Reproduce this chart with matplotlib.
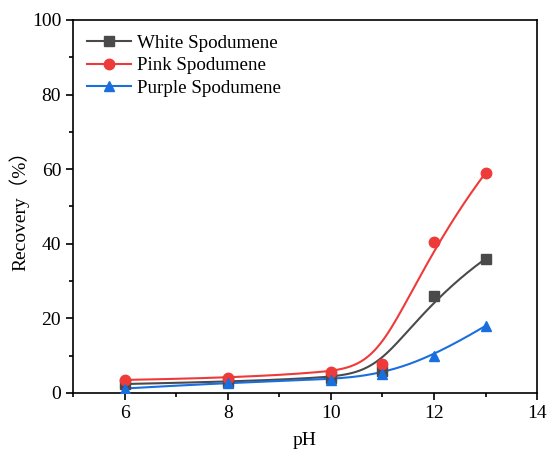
import numpy as np
import matplotlib
matplotlib.use('Agg')
import matplotlib.pyplot as plt
from matplotlib.ticker import MultipleLocator

ph = [6, 8, 10, 11, 12, 13]
white = [2.4, 3.0, 4.0, 6.0, 26.0, 36.0]
pink = [3.5, 4.0, 5.5, 7.8, 40.5, 59.0]
purple = [1.2, 2.8, 3.5, 5.0, 9.8, 18.0]

plt.rcParams['font.family'] = ['Liberation Serif', 'Noto Sans CJK SC']


def bspline(px, py, npts=400):
    # clamped cubic B-spline using the data points as control points
    P = np.column_stack([px, py]).astype(float)
    n = len(P)
    k = 3
    knots = np.concatenate([np.zeros(k), np.arange(n - k + 1), np.full(k, n - k)]).astype(float)
    ts = np.linspace(0, n - k, npts)
    out = []
    for t in ts:
        # Cox-de Boor basis
        N = np.array([1.0 if (knots[i] <= t < knots[i + 1]) else 0.0 for i in range(len(knots) - 1)])
        if t >= knots[-1]:
            N[n - 1] = 1.0
        for d in range(1, k + 1):
            Nn = np.zeros(len(knots) - 1 - d)
            for i in range(len(Nn)):
                a = 0.0
                if knots[i + d] != knots[i]:
                    a = (t - knots[i]) / (knots[i + d] - knots[i]) * N[i]
                b = 0.0
                if knots[i + d + 1] != knots[i + 1]:
                    b = (knots[i + d + 1] - t) / (knots[i + d + 1] - knots[i + 1]) * N[i + 1]
                Nn[i] = a + b
            N = Nn
        out.append(N[:n] @ P)
    out = np.array(out)
    return out[:, 0], out[:, 1]


fig = plt.figure(figsize=(5.47, 4.5), dpi=100)
ax = fig.add_axes([0.1335, 0.1267, 0.8485, 0.829])

series = [
    ('White Spodumene', white, '#4a4a4a', 's'),
    ('Pink Spodumene', pink, '#ef3a3a', 'o'),
    ('Purple Spodumene', purple, '#1a6fdf', '^'),
]
for label, vals, col, mk in series:
    xs, ys = bspline(ph, vals)
    ax.plot(xs, ys, color=col, lw=1.5, zorder=2)
    ax.plot(ph, vals, ls='none', marker=mk, ms=7.5, color=col, zorder=3)
    ax.plot([], [], color=col, lw=1.5, marker=mk, ms=7.5, label=label)

ax.set_xlim(5, 14)
ax.set_ylim(0, 100)
ax.xaxis.set_major_locator(MultipleLocator(2))
ax.xaxis.set_minor_locator(MultipleLocator(1))
ax.yaxis.set_major_locator(MultipleLocator(20))
ax.yaxis.set_minor_locator(MultipleLocator(10))
ax.tick_params(which='both', direction='out', labelsize=14, width=1.2)
ax.tick_params(which='major', length=5)
ax.tick_params(which='minor', length=3)
for sp in ax.spines.values():
    sp.set_linewidth(1.2)

ax.set_xlabel('pH', fontsize=14, labelpad=7)
ax.set_ylabel('Recovery（%）', fontsize=14, labelpad=2)

ax.legend(loc='upper left', frameon=False, fontsize=13.7, handlelength=2.3,
          borderaxespad=0.35, labelspacing=0.28, handletextpad=0.3)

fig.savefig('out.png', dpi=100)
